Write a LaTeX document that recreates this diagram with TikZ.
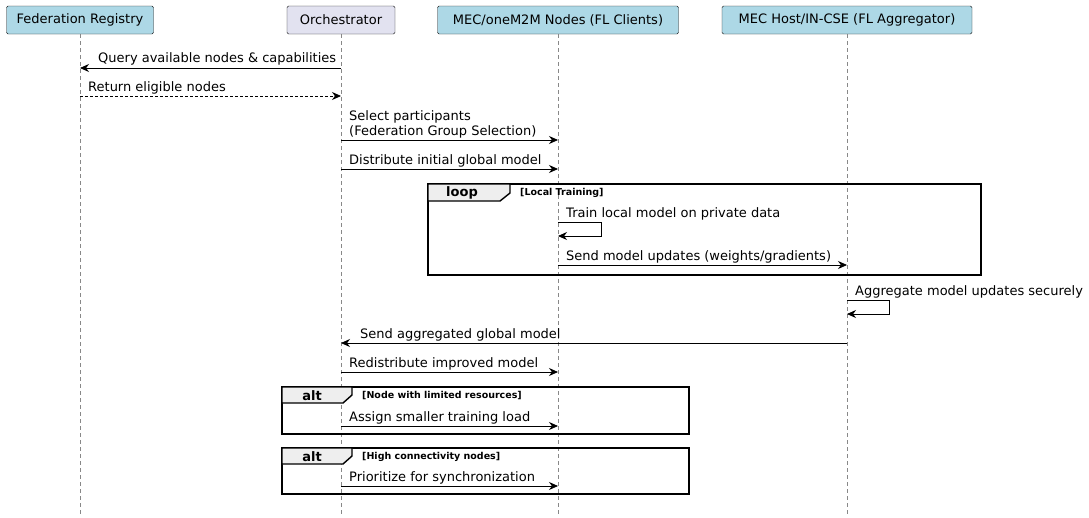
\documentclass[tikz,border=0pt]{standalone}
\usepackage{fontspec}
\setmainfont{DejaVu Sans}
\usetikzlibrary{arrows.meta}
\definecolor{partblue}{HTML}{ADD8E6}
\definecolor{partlav}{HTML}{E2E2F0}
\definecolor{tabgray}{HTML}{EEEEEE}
\definecolor{lifegray}{HTML}{888888}
\tikzset{
  part/.style={draw=black!90, fill=partblue, rounded corners=1.5pt, minimum height=28pt, inner xsep=5pt, font=\fontsize{13}{15}\selectfont},
  life/.style={lifegray, dash pattern=on 4pt off 3pt, line width=0.6pt},
  msg/.style={-{Stealth[length=9pt,width=8pt]}, line width=0.8pt},
  reply/.style={msg, dash pattern=on 3pt off 2pt},
  lbl/.style={anchor=base west, inner sep=0pt, font=\fontsize{13}{15}\selectfont},
  frame/.style={line width=1.4pt},
  tabtxt/.style={font=\bfseries\fontsize{13}{15}\selectfont},
  cond/.style={anchor=base west, inner sep=0pt, font=\bfseries\fontsize{9.5}{11}\selectfont}
}
\begin{document}
\begin{tikzpicture}[x=1pt,y=-1pt]
\useasboundingbox (0,0) rectangle (1089,517);
	% participants
	\node[part, minimum width=147pt] (reg) at (80,20) {Federation Registry};
	\node[part, fill=partlav, minimum width=108pt] (orch) at (341,20) {Orchestrator};
	\node[part, minimum width=241pt] (nodes) at (558,20) {MEC/oneM2M Nodes (FL Clients)};
	\node[part, minimum width=250pt] (host) at (847,20) {MEC Host/IN-CSE (FL Aggregator)};
	
	% lifelines
	\coordinate (regEnd) at (80,517);
	\coordinate (orchEnd) at (341,517);
	\coordinate (nodesEnd) at (558,517);
	\coordinate (hostEnd) at (847,517);
	\draw[life] (reg.south) -- (regEnd);
	\draw[life] (orch.south) -- (orchEnd);
	\draw[life] (nodes.south) -- (nodesEnd);
	\draw[life] (host.south) -- (hostEnd);
	
	% messages
	\coordinate (o1) at (341,68); \coordinate (r1) at (80,68);
	\draw[msg] (o1) -- (r1);
	\node[lbl] (m1) at (98,62) {Query available nodes \& capabilities};
	
	\coordinate (r2) at (80,96); \coordinate (o2) at (341,96);
	\draw[reply] (r2) -- (o2);
	\node[lbl] (m2) at (88,91) {Return eligible nodes};
	
	\coordinate (o3) at (341,140); \coordinate (n3) at (558,140);
	\draw[msg] (o3) -- (n3);
	\node[lbl] (m3a) at (349,120) {Select participants};
	\node[lbl] (m3b) at (349,135) {(Federation Group Selection)};
	
	\coordinate (o4) at (341,169); \coordinate (n4) at (558,169);
	\draw[msg] (o4) -- (n4);
	\node[lbl] (m4) at (349,164) {Distribute initial global model};
	
	% loop frame
	\draw[frame] (428,184) rectangle (981,275);
	\draw[frame, fill=tabgray] (428,184) -- (510,184) -- (510,193) -- (500,201) -- (428,201) -- cycle;
	\node[tabtxt] (loopTab) at (462,192.5) {loop};
	\node[cond] (loopCond) at (520,195) {[Local Training]};
	
	\coordinate (n5a) at (558,222); \coordinate (n5b) at (601,222);
	\coordinate (n5c) at (601,236); \coordinate (n5d) at (558,236);
	\draw[msg] (n5a) -- (n5b) -- (n5c) -- (n5d);
	\node[lbl] (m5) at (566,217) {Train local model on private data};
	
	\coordinate (n6) at (558,265); \coordinate (h6) at (847,265);
	\draw[msg] (n6) -- (h6);
	\node[lbl] (m6) at (566,260) {Send model updates (weights/gradients)};
	
	\coordinate (h7a) at (847,300); \coordinate (h7b) at (889,300);
	\coordinate (h7c) at (889,314); \coordinate (h7d) at (847,314);
	\draw[msg] (h7a) -- (h7b) -- (h7c) -- (h7d);
	\node[lbl] (m7) at (855,295) {Aggregate model updates securely};
	
	\coordinate (h8) at (847,343); \coordinate (o8) at (341,343);
	\draw[msg] (h8) -- (o8);
	\node[lbl] (m8) at (360,338) {Send aggregated global model};
	
	\coordinate (o9) at (341,372); \coordinate (n9) at (558,372);
	\draw[msg] (o9) -- (n9);
	\node[lbl] (m9) at (349,367) {Redistribute improved model};
	
	% alt frames
	\draw[frame] (282,387) rectangle (689,434);
	\draw[frame, fill=tabgray] (282,387) -- (352,387) -- (352,395) -- (343,403) -- (282,403) -- cycle;
	\node[tabtxt] (altTab1) at (312,395.5) {alt};
	\node[cond] (altCond1) at (362,398) {[Node with limited resources]};
	
	\coordinate (o10) at (341,426); \coordinate (n10) at (558,426);
	\draw[msg] (o10) -- (n10);
	\node[lbl] (m10) at (349,421) {Assign smaller training load};
	
	\draw[frame] (282,448) rectangle (689,494);
	\draw[frame, fill=tabgray] (282,448) -- (352,448) -- (352,456) -- (343,464) -- (282,464) -- cycle;
	\node[tabtxt] (altTab2) at (312,456.5) {alt};
	\node[cond] (altCond2) at (362,459) {[High connectivity nodes]};
	
	\coordinate (o11) at (341,486); \coordinate (n11) at (558,486);
	\draw[msg] (o11) -- (n11);
	\node[lbl] (m11) at (349,481) {Prioritize for synchronization};
\end{tikzpicture}
\end{document}
